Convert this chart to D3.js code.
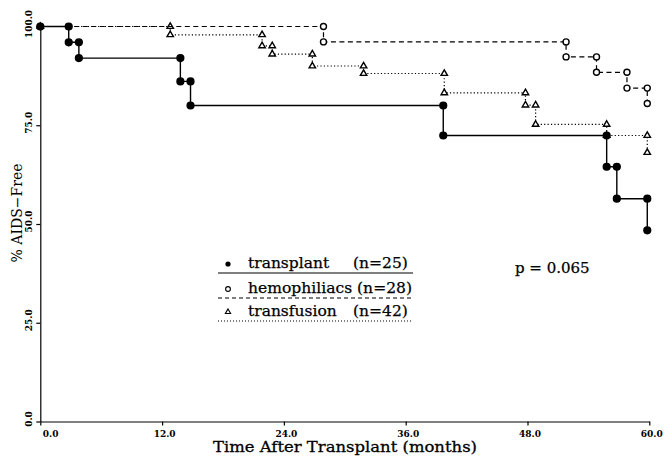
<!DOCTYPE html>
<html lang="en">
<head>
<meta charset="UTF-8">
<script src="https://d3js.org/d3.v7.min.js"></script>
<style>
  body { margin: 0; background: #fff; }
  text { fill: #000; }
</style>
</head>
<body>
<svg width="665" height="459" id="km-plot"></svg>
<script>
// step points (months, % AIDS-free)
const transplantTimes = [0, 2.8, 3.8, 13.8, 14.8, 39.7, 55.8, 56.8, 59.8];
const transplantPct   = [100, 96, 92, 86.1, 80, 72.4, 64.5, 56.4, 48.4];

const hemoTimes = [0, 27.9, 51.8, 54.8, 57.8, 59.8];
const hemoPct   = [100, 96.1, 92.3, 88.4, 84.4, 80.5];

const transfusionTimes = [0, 12.8, 21.85, 22.85, 26.8, 31.85, 39.8, 47.8, 48.8, 55.8, 59.8];
const transfusionPct   = [100, 97.9, 95.1, 93.0, 90.0, 88.1, 83.2, 80.1, 75.2, 72.4, 68.1];

const xTicks = [0, 12, 24, 36, 48, 60];
const yTicks = [0, 25, 50, 75, 100];

const legendLabels = [["transplant", "(n=25)"], ["hemophiliacs", "(n=28)"], ["transfusion", "(n=42)"]];
const pText = "p = 0.065";

const svg = d3.select("#km-plot");
const serif = "'DejaVu Serif', serif";

const x = d3.scaleLinear().domain([0, 60]).range([40.3, 649.3]);
const y = d3.scaleLinear().domain([0, 100]).range([421.5, 26.5]);

// axes
const xAxis = svg.append("g")
    .attr("transform", "translate(0," + y(0) + ")")
    .call(d3.axisBottom(x).tickValues(xTicks).tickFormat(d3.format(".1f")).tickSize(4).tickSizeOuter(0));
xAxis.selectAll("text")
    .attr("font-family", serif).attr("font-weight", "bold").attr("font-size", 9)
    .attr("dy", "0.71em").attr("y", 9)
    .attr("dx", 2)
    .attr("text-anchor", d => d === 0 ? "start" : "middle");

const yAxis = svg.append("g")
    .attr("transform", "translate(" + x(0) + ",0)")
    .call(d3.axisLeft(y).tickValues(yTicks).tickFormat(d3.format(".1f")).tickSize(4).tickSizeOuter(0));
// tick groups are already translated to y(d)
yAxis.selectAll("text")
    .attr("font-family", serif).attr("font-weight", "bold").attr("font-size", 9)
    .attr("x", null).attr("dy", null)
    .attr("transform", "translate(-8,-3) rotate(-90)")
    .attr("text-anchor", "middle");
svg.selectAll(".domain, .tick line").attr("stroke", "#000").attr("stroke-width", 1.2);

// axis titles
svg.append("text")
    .attr("x", 345).attr("y", 452)
    .attr("text-anchor", "middle")
    .attr("font-family", serif).attr("font-size", 15)
    .attr("stroke", "#000").attr("stroke-width", 0.3)
    .attr("textLength", 264).attr("lengthAdjust", "spacingAndGlyphs")
    .text("Time After Transplant (months)");

svg.append("text")
    .attr("transform", "translate(22,213) rotate(-90)")
    .attr("text-anchor", "middle")
    .attr("font-family", serif).attr("font-size", 14)
    .text("% AIDS\u2212Free");

// step curve: horizontal then vertical at each event time
function stepPath(times, pct) {
    let pts = [[times[0], pct[0]]];
    for (let i = 1; i < times.length; i++) {
        pts.push([times[i], pct[i - 1]]);
        pts.push([times[i], pct[i]]);
    }
    return pts;
}
const line = d3.line().x(d => x(d[0])).y(d => y(d[1]));

const series = [
    { times: transfusionTimes, pct: transfusionPct, dash: "1.2,2.2", marker: "tri" },
    { times: hemoTimes, pct: hemoPct, dash: "5,3.5", marker: "open" },
    { times: transplantTimes, pct: transplantPct, dash: null, marker: "filled" }
];

const tri = d3.symbol().type(d3.symbolTriangle).size(18);

series.forEach(s => {
    svg.append("path")
        .attr("d", line(stepPath(s.times, s.pct)))
        .attr("fill", "none").attr("stroke", "#000")
        .attr("stroke-width", s.dash ? 1.2 : 1.4)
        .attr("stroke-dasharray", s.dash);

    const pts = stepPath(s.times, s.pct);
    if (s.marker === "tri") {
        svg.selectAll(null).data(pts).enter().append("path")
            .attr("d", tri)
            .attr("transform", d => "translate(" + x(d[0]) + "," + y(d[1]) + ")")
            .attr("fill", "#fff").attr("stroke", "#000").attr("stroke-width", 1.4);
    } else {
        svg.selectAll(null).data(pts).enter().append("circle")
            .attr("cx", d => x(d[0])).attr("cy", d => y(d[1]))
            .attr("r", s.marker === "filled" ? 3.4 : 3)
            .attr("fill", s.marker === "filled" ? "#000" : "#fff")
            .attr("stroke", "#000").attr("stroke-width", 1.4);
    }
});

// legend
const legend = svg.append("g");
const legendY = [268, 293, 316];
const legendDash = [null, "4,3", "1,2"];
legendLabels.forEach((lab, i) => {
    const ly = legendY[i];
    if (i === 0) {
        legend.append("circle").attr("cx", 228).attr("cy", ly - 4).attr("r", 2.6).attr("fill", "#000");
    } else if (i === 1) {
        legend.append("circle").attr("cx", 228).attr("cy", ly - 4).attr("r", 2.4)
            .attr("fill", "#fff").attr("stroke", "#000").attr("stroke-width", 1.1);
    } else {
        legend.append("path").attr("d", d3.symbol().type(d3.symbolTriangle).size(12))
            .attr("transform", "translate(228," + (ly - 4) + ")")
            .attr("fill", "#fff").attr("stroke", "#000").attr("stroke-width", 1.1);
    }
    const t = legend.append("text")
        .attr("x", 248).attr("y", ly)
        .attr("font-family", serif).attr("font-size", 15.5)
        .attr("stroke", "#000").attr("stroke-width", 0.25);
    if (i === 1) {
        // this one runs on without the column gap
        t.attr("textLength", 164).attr("lengthAdjust", "spacingAndGlyphs")
            .text(lab[0] + " " + lab[1]);
    } else {
        t.text(lab[0]);
        legend.append("text")
            .attr("x", 353).attr("y", ly)
            .attr("font-family", serif).attr("font-size", 15.5)
            .attr("stroke", "#000").attr("stroke-width", 0.25)
            .text(lab[1]);
    }
    legend.append("line")
        .attr("x1", 218).attr("x2", 413)
        .attr("y1", ly + 5).attr("y2", ly + 5)
        .attr("stroke", "#000").attr("stroke-width", 1.1)
        .attr("stroke-dasharray", legendDash[i]);
});

svg.append("text")
    .attr("x", 515).attr("y", 273)
    .attr("font-family", serif).attr("font-size", 15)
    .attr("stroke", "#000").attr("stroke-width", 0.25)
    .text(pText);
</script>
</body>
</html>
